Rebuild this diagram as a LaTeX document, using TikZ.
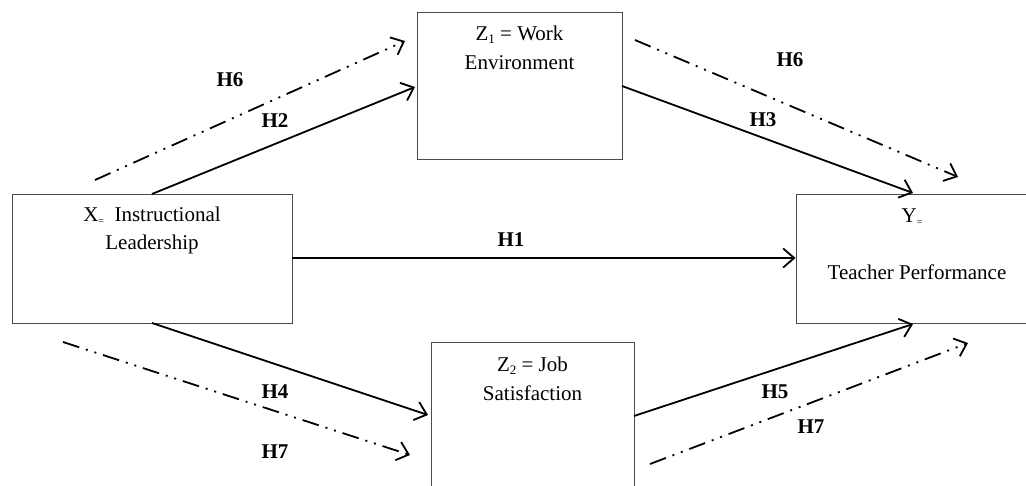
\documentclass[tikz,border=0pt]{standalone}
\usepackage{fontspec}
\setmainfont{Liberation Serif}
\usetikzlibrary{arrows.meta}
\begin{document}
\begin{tikzpicture}[x=1pt,y=-1pt,
  box/.style={draw=black!70,line width=0.9pt,inner sep=0pt},
  txt/.style={font=\fontsize{21}{28}\selectfont,inner sep=0pt,align=center},
  lab/.style={font=\fontsize{21}{24}\selectfont\bfseries,inner sep=0pt},
  solidarrow/.style={line width=1.8pt,-{Straight Barb[length=11pt,width=19pt,line width=1.8pt]}},
  dasharrow/.style={line width=1.8pt,dash pattern=on 17pt off 7pt on 2pt off 7pt on 2pt off 7pt,-{Straight Barb[length=11pt,width=19pt,line width=1.8pt]}}]
\useasboundingbox (0,0) rectangle (1026,486);
% boxes
\node[box,minimum width=280pt,minimum height=129pt] (X) at (152,258.5) {};
\node[box,minimum width=205pt,minimum height=147pt] (Z1) at (519.5,85.5) {};
\node[box,minimum width=240pt,minimum height=129pt] (Y) at (916,258.5) {};
\node[box,minimum width=203pt,minimum height=160pt] (Z2) at (532.5,422) {};
% texts
\node[txt] (Xt1) at (152,216) {X{\fontsize{10}{10}\selectfont\raisebox{-3pt}{=}}\ \ Instructional};
\node[txt] (Xt2) at (152,244) {Leadership};
\node[txt] (Z1t1) at (519.5,35) {Z{\fontsize{13}{13}\selectfont\raisebox{-3pt}{1}} = Work};
\node[txt] (Z1t2) at (519.5,63) {Environment};
\node[txt] (Yt1) at (912,217) {Y{\fontsize{10}{10}\selectfont\raisebox{-3pt}{=}}};
\node[txt] (Yt2) at (917,272) {Teacher Performance};
\node[txt] (Z2t1) at (532.5,366) {Z{\fontsize{13}{13}\selectfont\raisebox{-3pt}{2}} = Job};
\node[txt] (Z2t2) at (532.5,393) {Satisfaction};
% endpoints
\coordinate (a6s) at (95,180);   \coordinate (a6e) at (405,41);
\coordinate (b6s) at (635,40);   \coordinate (b6e) at (958,177);
\coordinate (a7s) at (63,342);   \coordinate (a7e) at (410,455);
\coordinate (b7s) at (650,464);  \coordinate (b7e) at (968,343);
\coordinate (h2s) at (152,194);  \coordinate (h2e) at (415,87);
\coordinate (h3s) at (622,86);   \coordinate (h3e) at (913,193);
\coordinate (h4s) at (152,323);  \coordinate (h4e) at (428,415);
\coordinate (h5s) at (634,416);  \coordinate (h5e) at (913,324);
% solid arrows
\draw[solidarrow] (X.east |- 0,258) -- (Y.west |- 0,258);
\draw[solidarrow] (h2s) -- (h2e);
\draw[solidarrow] (h3s) -- (h3e);
\draw[solidarrow] (h4s) -- (h4e);
\draw[solidarrow] (h5s) -- (h5e);
% dash-dot arrows
\draw[dasharrow] (a6s) -- (a6e);
\draw[dasharrow] (b6s) -- (b6e);
\draw[dasharrow] (a7s) -- (a7e);
\draw[dasharrow] (b7s) -- (b7e);
% labels
\node[lab] (L6a) at (230,80) {H6};
\node[lab] (L2) at (275,121) {H2};
\node[lab] (L6b) at (790,60) {H6};
\node[lab] (L3) at (763,120) {H3};
\node[lab] (L1) at (511,240) {H1};
\node[lab] (L4) at (275,392) {H4};
\node[lab] (L7a) at (275,452) {H7};
\node[lab] (L5) at (775,392) {H5};
\node[lab] (L7b) at (811,427) {H7};
\end{tikzpicture}
\end{document}
